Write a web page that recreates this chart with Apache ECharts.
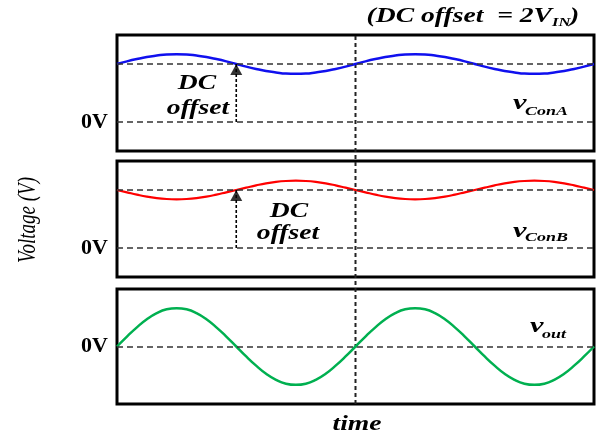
<!DOCTYPE html>
<html>
<head>
<meta charset="utf-8">
<script src="https://cdn.jsdelivr.net/npm/echarts@6/dist/echarts.min.js"></script>
<style>
  html, body { margin: 0; padding: 0; background: #fff; }
  #chart { width: 597px; height: 437px; }
</style>
</head>
<body>
<div id="chart"></div>
<script>
// ---- data ----
const timeSteps = [0,0.5,1,1.5,2,2.5,3,3.5,4,4.5,5,5.5,6,6.5,7,7.5,8,8.5,9,9.5,10,10.5,11,11.5,
                   12,12.5,13,13.5,14,14.5,15,15.5,16,16.5,17,17.5,18,18.5,19,19.5,20,20.5,21,21.5,22,22.5,23,23.5,24];
const vConA = [2.00,2.09,2.17,2.24,2.29,2.33,2.34,2.33,2.29,2.24,2.17,2.09,2.00,1.91,1.83,1.76,1.71,1.67,1.66,1.67,1.71,1.76,1.83,1.91,
               2.00,2.09,2.17,2.24,2.29,2.33,2.34,2.33,2.29,2.24,2.17,2.09,2.00,1.91,1.83,1.76,1.71,1.67,1.66,1.67,1.71,1.76,1.83,1.91,2.00];
const vConB = [2.00,1.92,1.84,1.77,1.72,1.69,1.68,1.69,1.72,1.77,1.84,1.92,2.00,2.08,2.16,2.23,2.28,2.31,2.32,2.31,2.28,2.23,2.16,2.08,
               2.00,1.92,1.84,1.77,1.72,1.69,1.68,1.69,1.72,1.77,1.84,1.92,2.00,2.08,2.16,2.23,2.28,2.31,2.32,2.31,2.28,2.23,2.16,2.08,2.00];
const vOut  = [0.00,0.26,0.50,0.71,0.87,0.97,1.00,0.97,0.87,0.71,0.50,0.26,0.00,-0.26,-0.50,-0.71,-0.87,-0.97,-1.00,-0.97,-0.87,-0.71,-0.50,-0.26,
               0.00,0.26,0.50,0.71,0.87,0.97,1.00,0.97,0.87,0.71,0.50,0.26,0.00,-0.26,-0.50,-0.71,-0.87,-0.97,-1.00,-0.97,-0.87,-0.71,-0.50,-0.26,0.00];
const dcOffset = 2;
const zeroLevel = 0;
const arrowTime = 6;
const periodMark = 12;
const zeroTickLabel = '0V';
const yAxisTitle = 'Voltage (V)';
const xAxisTitle = 'time';
const noteMain = '(DC offset  = 2V';
const noteSub = 'IN';
const noteEnd = ')';
const offsetWords = ['DC', 'offset'];
const seriesNames = [['v', 'ConA'], ['v', 'ConB'], ['v', 'out']];

// ---- styles ----
const SERIF = '"Liberation Serif", "Times New Roman", serif';
const SX = 1.38;
const dashStyle = { color: '#333', width: 1.5, type: [6, 4] };
const arrowLine = { color: '#000', width: 1.6, type: [3, 2] };

function pairs(vals) { return timeSteps.map((t, i) => [t, vals[i]]); }

const grids = [
  { left: 117, top: 35, width: 477, height: 116 },
  { left: 117, top: 161, width: 477, height: 116 },
  { left: 117, top: 289, width: 477, height: 115 },
  { left: 117, top: 35, width: 477, height: 369 }
].map((g, i) => Object.assign({
  show: i < 3, borderColor: '#000', borderWidth: 3, backgroundColor: 'transparent'
}, g));

const xAxes = grids.map((g, i) => ({
  type: 'value', gridIndex: i, min: 0, max: 24, show: false
}));

function yAx(i, min, max, interval) {
  return {
    type: 'value', gridIndex: i, min, max, interval,
    axisLine: { show: false }, axisTick: { show: false }, splitLine: { show: false },
    axisLabel: {
      show: true, margin: 9, color: '#000',
      fontFamily: SERIF, fontWeight: 'bold', fontSize: 22,
      formatter: v => (v === zeroLevel ? zeroTickLabel : '')
    }
  };
}
const yAxes = [yAx(0, -1, 3, 1), yAx(1, -1, 3, 1), yAx(2, -1.5, 1.5, 1.5), {
  type: 'value', gridIndex: 3, min: 0, max: 1, show: false
}];

function arrowSeries(ix) {
  return [
    {
      type: 'line', xAxisIndex: ix, yAxisIndex: ix, silent: true, showSymbol: false,
      data: [[arrowTime, zeroLevel], [arrowTime, dcOffset]], lineStyle: arrowLine, z: 5
    },
    {
      type: 'scatter', xAxisIndex: ix, yAxisIndex: ix, silent: true,
      data: [[arrowTime, dcOffset]], symbol: 'triangle', symbolSize: [12, 11],
      symbolOffset: [0, '50%'], itemStyle: { color: '#000' }, z: 6
    }
  ];
}

function levelLines(levels) {
  return {
    silent: true, symbol: 'none', label: { show: false }, lineStyle: dashStyle,
    data: levels.map(v => ({ yAxis: v }))
  };
}

const series = [
  {
    type: 'line', xAxisIndex: 0, yAxisIndex: 0, data: pairs(vConA), smooth: true,
    showSymbol: false, lineStyle: { color: '#1010ee', width: 2.5 }, z: 4,
    markLine: levelLines([dcOffset, zeroLevel])
  },
  ...arrowSeries(0),
  {
    type: 'line', xAxisIndex: 1, yAxisIndex: 1, data: pairs(vConB), smooth: true,
    showSymbol: false, lineStyle: { color: '#ff0000', width: 2.2 }, z: 4,
    markLine: levelLines([dcOffset, zeroLevel])
  },
  ...arrowSeries(1),
  {
    type: 'line', xAxisIndex: 2, yAxisIndex: 2, data: pairs(vOut), smooth: true,
    showSymbol: false, lineStyle: { color: '#00b050', width: 2.5 }, z: 4,
    markLine: levelLines([zeroLevel])
  },
  {
    type: 'line', xAxisIndex: 3, yAxisIndex: 3, silent: true,
    data: [[periodMark, 0], [periodMark, 1]], showSymbol: false,
    lineStyle: { color: '#222', width: 2, type: [4, 3] }, z: 3
  }
];

function txt(text, x, y, size, opts) {
  opts = opts || {};
  return {
    type: 'text', x, y, scaleX: opts.scaleX || SX, scaleY: opts.scaleY || 1,
    rotation: opts.rotation || 0, silent: true, z: 10,
    style: {
      text, fill: '#000',
      font: (opts.style || 'italic') + ' ' + (opts.weight || 'bold') + ' ' + size + 'px ' + SERIF,
      textAlign: opts.align || 'center', textVerticalAlign: 'middle'
    }
  };
}

const graphic = [
  // top note
  txt(noteMain, 552, 16.5, 20, { align: 'right' }),
  txt(noteSub, 552, 22.5, 12, { align: 'left' }),
  txt(noteEnd, 570, 16.5, 20, { align: 'left' }),
  // DC offset annotations
  txt(offsetWords[0], 197, 84, 20),
  txt(offsetWords[1], 198, 109, 20),
  txt(offsetWords[0], 289, 212, 20),
  txt(offsetWords[1], 288, 234, 20),
  // series labels
  txt(seriesNames[0][0], 513, 103.5, 22, { align: 'left' }),
  txt(seriesNames[0][1], 525, 112, 13, { align: 'left' }),
  txt(seriesNames[1][0], 513, 231.5, 22, { align: 'left' }),
  txt(seriesNames[1][1], 525, 238, 13, { align: 'left' }),
  txt(seriesNames[2][0], 530, 326.5, 22, { align: 'left' }),
  txt(seriesNames[2][1], 542, 335, 13, { align: 'left' }),
  // axis titles
  txt(xAxisTitle, 357, 424.5, 20),
  txt(yAxisTitle, 28, 220, 19, { rotation: Math.PI / 2, scaleX: 1, scaleY: SX, weight: 'normal' })
];

const chart = echarts.init(document.getElementById('chart'), null, { renderer: 'canvas' });
chart.setOption({
  animation: false,
  backgroundColor: '#fff',
  grid: grids,
  xAxis: xAxes,
  yAxis: yAxes,
  series,
  graphic
});
</script>
</body>
</html>
